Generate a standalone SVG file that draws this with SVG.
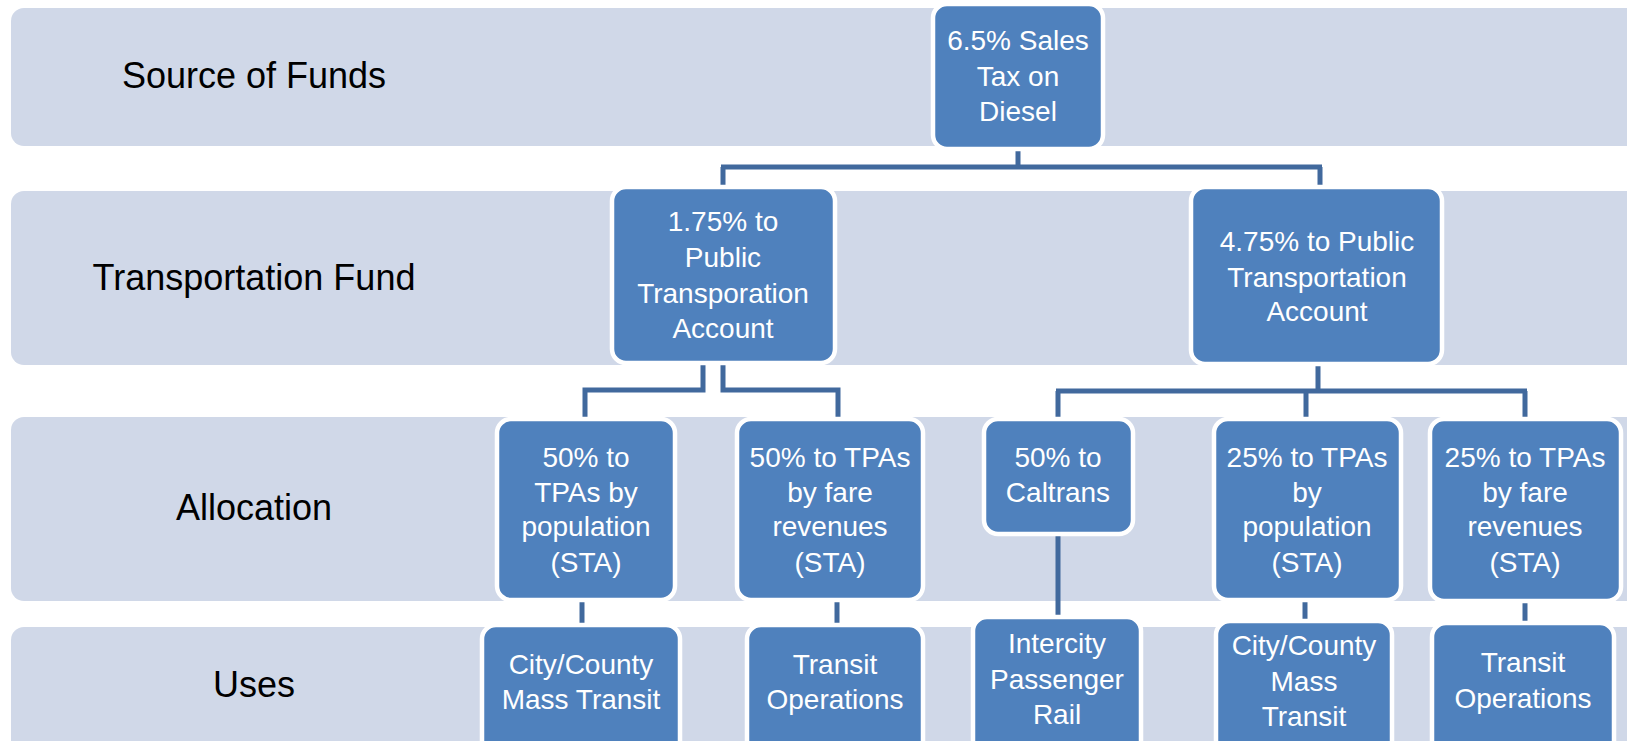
<svg xmlns="http://www.w3.org/2000/svg" width="1627" height="741" viewBox="0 0 1627 741">
<style>
.band{fill:#d0d8e8}
.node rect{fill:#4f81bd;stroke:#ffffff;stroke-width:4.5}
.node text{fill:#ffffff;font-family:"Liberation Sans",Arial,sans-serif;font-size:28px;text-anchor:middle}
.lbl{fill:#000000;font-family:"Liberation Sans",Arial,sans-serif;font-size:36px;text-anchor:middle}
.conn path{fill:none;stroke:#41699d;stroke-width:5}
</style>
<rect width="1627" height="741" fill="#ffffff"/>
<g id="bands">
<rect class="band" x="11" y="8" width="1640" height="138" rx="13"/>
<rect class="band" x="11" y="191" width="1640" height="174" rx="13"/>
<rect class="band" x="11" y="417" width="1640" height="184" rx="13"/>
<rect class="band" x="11" y="627" width="1640" height="130" rx="13"/>
</g>
<g id="labels">
<text class="lbl" x="254" y="88">Source of Funds</text>
<text class="lbl" x="254" y="290">Transportation Fund</text>
<text class="lbl" x="254" y="520">Allocation</text>
<text class="lbl" x="254" y="697">Uses</text>
</g>
<g id="connectors" class="conn">
<path d="M1018,150 V167 M721,167 H1322 M723,167 V187 M1320,167 V187"/>
<path d="M703,364 V390 H585 V418 M723,364 V390 H838 V418"/>
<path d="M1318,366 V391 M1056,391 H1527 M1058,391 V418 M1306,391 V418 M1525,391 V418"/>
<path d="M582,601 V624"/>
<path d="M837,601 V624"/>
<path d="M1058,535 V616"/>
<path d="M1305,601 V620"/>
<path d="M1525,602 V622"/>
</g>
<g id="n-sales" class="node">
<rect x="933" y="4" width="170" height="145" rx="14"/>
<text x="1018" y="50">6.5% Sales</text>
<text x="1018" y="85.5">Tax on</text>
<text x="1018" y="121">Diesel</text>
</g>
<g id="n-175" class="node">
<rect x="612" y="187" width="223" height="176" rx="14"/>
<text x="723" y="231">1.75% to</text>
<text x="723" y="267">Public</text>
<text x="723" y="303">Transporation</text>
<text x="723" y="338">Account</text>
</g>
<g id="n-475" class="node">
<rect x="1191" y="187" width="251" height="177" rx="14"/>
<text x="1317" y="251">4.75% to Public</text>
<text x="1317" y="287">Transportation</text>
<text x="1317" y="321">Account</text>
</g>
<g id="n-50pop" class="node">
<rect x="497" y="419" width="178" height="181" rx="14"/>
<text x="586" y="467">50% to</text>
<text x="586" y="502">TPAs by</text>
<text x="586" y="536">population</text>
<text x="586" y="572">(STA)</text>
</g>
<g id="n-50fare" class="node">
<rect x="737" y="419" width="186" height="181" rx="14"/>
<text x="830" y="467">50% to TPAs</text>
<text x="830" y="502">by fare</text>
<text x="830" y="536">revenues</text>
<text x="830" y="572">(STA)</text>
</g>
<g id="n-caltrans" class="node">
<rect x="984" y="419" width="149" height="115" rx="14"/>
<text x="1058" y="467">50% to</text>
<text x="1058" y="502">Caltrans</text>
</g>
<g id="n-25pop" class="node">
<rect x="1214" y="419" width="187" height="181" rx="14"/>
<text x="1307" y="467">25% to TPAs</text>
<text x="1307" y="502">by</text>
<text x="1307" y="536">population</text>
<text x="1307" y="572">(STA)</text>
</g>
<g id="n-25fare" class="node">
<rect x="1430" y="419" width="191" height="182" rx="14"/>
<text x="1525" y="467">25% to TPAs</text>
<text x="1525" y="502">by fare</text>
<text x="1525" y="536">revenues</text>
<text x="1525" y="572">(STA)</text>
</g>
<g id="u-mass1" class="node">
<rect x="482" y="625" width="198" height="135" rx="14"/>
<text x="581" y="674">City/County</text>
<text x="581" y="709">Mass Transit</text>
</g>
<g id="u-ops1" class="node">
<rect x="747" y="625" width="176" height="135" rx="14"/>
<text x="835" y="674">Transit</text>
<text x="835" y="709">Operations</text>
</g>
<g id="u-rail" class="node">
<rect x="973" y="617" width="168" height="140" rx="14"/>
<text x="1057" y="653">Intercity</text>
<text x="1057" y="689">Passenger</text>
<text x="1057" y="724">Rail</text>
</g>
<g id="u-mass2" class="node">
<rect x="1216" y="621" width="176" height="137" rx="14"/>
<text x="1304" y="655">City/County</text>
<text x="1304" y="691">Mass</text>
<text x="1304" y="726">Transit</text>
</g>
<g id="u-ops2" class="node">
<rect x="1432" y="623" width="182" height="137" rx="14"/>
<text x="1523" y="672">Transit</text>
<text x="1523" y="708">Operations</text>
</g>
</svg>
